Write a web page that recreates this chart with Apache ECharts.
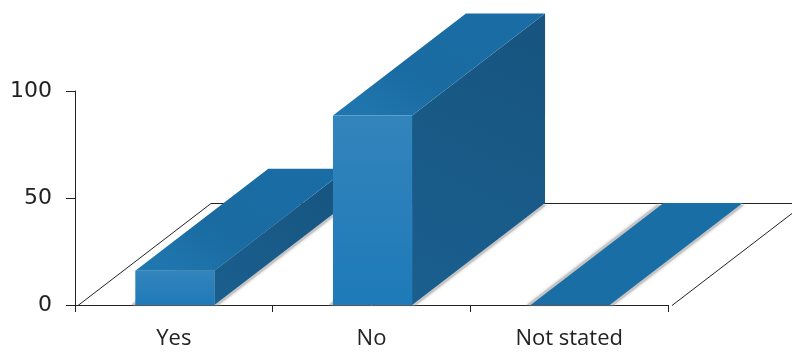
<!DOCTYPE html>
<html>
<head>
<meta charset="utf-8">
<style>html,body{margin:0;padding:0;background:#fff}#chart{width:792px;height:354px}</style>
<script src="https://cdn.jsdelivr.net/npm/echarts@6/dist/echarts.min.js"></script>
</head>
<body>
<div id="chart"></div>
<script>
const categories = ['Yes', 'No', 'Not stated'];
const responses = [16, 88.5, 0];

// Oblique projection used for the floor and the bar bodies
const depthX = 133;
const depthY = -102;
const barShare = 0.4;

const chart = echarts.init(document.getElementById('chart'), null, { renderer: 'canvas' });

const vGrad = (a, b) => new echarts.graphic.LinearGradient(0, 0, 0, 1, [
  { offset: 0, color: a }, { offset: 1, color: b }
]);

function poly(points, style) {
  return { type: 'polygon', shape: { points }, style, silent: true };
}

function renderFloor(params, api) {
  const o = api.coord([0, 0]);
  const band = api.size([1, 0])[0];
  const left = o[0] - band / 2 + 3;
  const right = left + band * 3 + 1;
  const y = Math.round(o[1]) + 0.5;
  const line = { stroke: '#222222', lineWidth: 1, fill: 'none' };
  return {
    type: 'polyline',
    silent: true,
    style: line,
    shape: { points: [
      [left, y], [left + depthX, y + depthY], [right + depthX, y + depthY], [right, y]
    ] }
  };
}

function renderBar(params, api) {
  const base = api.coord([api.value(0), 0]);
  const top = api.coord([api.value(0), api.value(1)]);
  const w = api.size([1, 0])[0] * barShare;
  const x0 = base[0] - w / 2 + 1;
  const x1 = base[0] + w / 2 + 1;
  const yb = base[1];
  const yt = top[1];
  const floorX = depthX * 0.98;
  const floorY = depthY * 0.98;
  const children = [
    // soft contact shadow on the floor
    poly([[x0 - 4, yb], [x1 + 4, yb], [x1 + floorX + 4, yb + floorY], [x0 + floorX - 4, yb + floorY]], {
      fill: '#c4c4c4', shadowBlur: 3, shadowColor: '#bbbbbb'
    })
  ];
  if (yb - yt < 1) {
    children.push(poly([[x0, yb], [x1, yb], [x1 + depthX, yb + depthY], [x0 + depthX, yb + depthY]], { fill: '#1a6ea6' }));
    return { type: 'group', children };
  }
  children.push(
    poly([[x1, yb], [x1 + depthX, yb + depthY], [x1 + depthX, yt + depthY], [x1, yt]], {
      fill: new echarts.graphic.LinearGradient(0, 1, 1, 0, [
        { offset: 0, color: '#1a5f8f' }, { offset: 1, color: '#17547f' }
      ])
    }),
    poly([[x0, yt], [x1, yt], [x1 + depthX, yt + depthY], [x0 + depthX, yt + depthY]], {
      fill: new echarts.graphic.LinearGradient(0.2, 1, 0.5, 0, [
        { offset: 0, color: '#1f75ad' }, { offset: 0.5, color: '#196ba1' }, { offset: 1, color: '#1a6da4' }
      ])
    }),
    {
      type: 'rect', silent: true,
      shape: { x: x0, y: yt, width: w, height: yb - yt },
      style: { fill: vGrad('#3384bc', '#1e7ab8') }
    }
  );
  return { type: 'group', children };
}

chart.setOption({
  animation: false,
  backgroundColor: '#ffffff',
  grid: { left: 75, right: 124, top: 91, bottom: 49, containLabel: false },
  xAxis: {
    type: 'category',
    data: categories,
    boundaryGap: true,
    axisLine: { show: true, lineStyle: { color: '#222222', width: 1 } },
    axisTick: { show: true, length: 7, alignWithLabel: false, lineStyle: { color: '#222222', width: 1 } },
    axisLabel: { color: '#222222', fontFamily: 'Open Sans', fontSize: 22, margin: 23 }
  },
  yAxis: {
    type: 'value',
    min: 0,
    max: 100,
    interval: 50,
    splitLine: { show: false },
    axisLine: { show: true, onZero: false, lineStyle: { color: '#222222', width: 1 } },
    axisTick: { show: true, length: 9, lineStyle: { color: '#222222', width: 1 } },
    axisLabel: { color: '#222222', fontFamily: 'DejaVu Sans', fontSize: 22, margin: 23, padding: [4, 0, 0, 0] }
  },
  series: [
    {
      type: 'custom',
      coordinateSystem: 'cartesian2d',
      data: [[0, 0]],
      encode: { x: 0, y: 1 },
      clip: false,
      renderItem: renderFloor,
      z: 1
    },
    {
      type: 'custom',
      coordinateSystem: 'cartesian2d',
      data: responses.map((v, i) => [i, v]),
      encode: { x: 0, y: 1 },
      clip: false,
      renderItem: renderBar,
      z: 2
    }
  ]
});
</script>
</body>
</html>
